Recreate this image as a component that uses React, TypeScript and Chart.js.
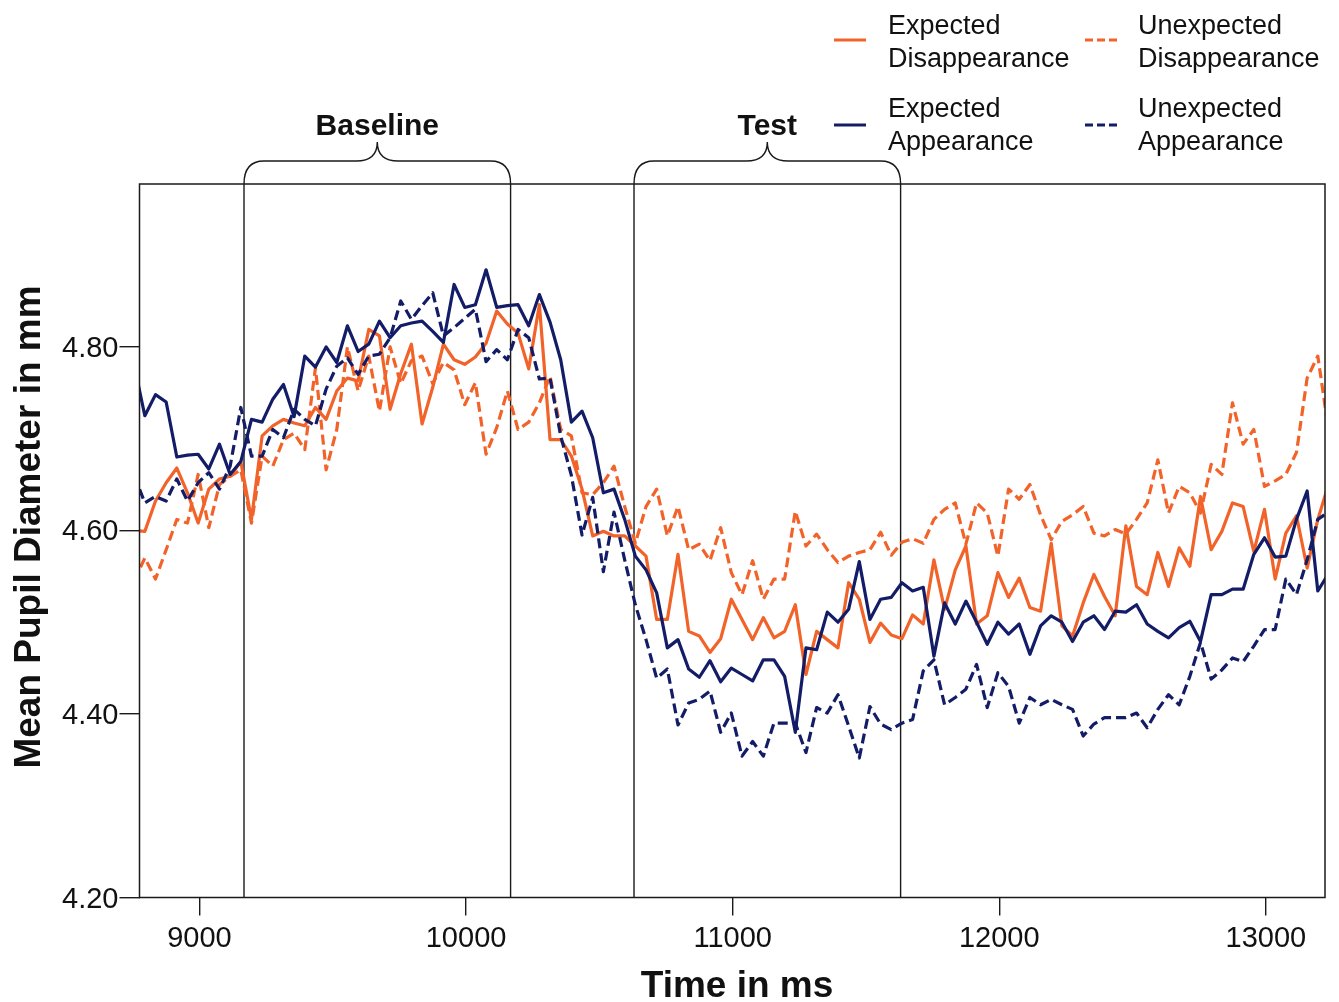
import React, { useEffect, useRef } from 'react';
import { Chart, registerables } from 'chart.js';

Chart.register(...registerables);

// Sampling of the time axis (ms): first sample and interval
const START_MS = 8755;
const STEP_MS = 40;

// Mean pupil diameter (mm), one value per 40 ms sample
const expectedDisappearance = [
  4.600, 4.599, 4.632, 4.652, 4.668, 4.641, 4.608, 4.645, 4.656, 4.659,
  4.675, 4.612, 4.703, 4.714, 4.721, 4.717, 4.714, 4.734, 4.721, 4.752,
  4.766, 4.763, 4.819, 4.812, 4.732, 4.771, 4.803, 4.716, 4.756, 4.803,
  4.786, 4.781, 4.789, 4.804, 4.839, 4.825, 4.815, 4.776, 4.846, 4.699,
  4.699, 4.681, 4.645, 4.594, 4.599, 4.594, 4.594, 4.583, 4.572, 4.503,
  4.503, 4.574, 4.490, 4.485, 4.467, 4.482, 4.525, 4.503, 4.481, 4.505,
  4.483, 4.490, 4.519, 4.443, 4.490, 4.481, 4.472, 4.543, 4.525, 4.478,
  4.499, 4.486, 4.482, 4.508, 4.498, 4.568, 4.514, 4.557, 4.583, 4.498,
  4.507, 4.554, 4.527, 4.548, 4.516, 4.512, 4.586, 4.496, 4.485, 4.521,
  4.552, 4.528, 4.507, 4.605, 4.539, 4.530, 4.576, 4.539, 4.581, 4.561,
  4.637, 4.579, 4.599, 4.630, 4.626, 4.577, 4.623, 4.547, 4.597, 4.616,
  4.559, 4.612, 4.650,
];

const unexpectedDisappearance = [
  4.545, 4.570, 4.547, 4.579, 4.612, 4.608, 4.661, 4.603, 4.650, 4.659,
  4.666, 4.608, 4.681, 4.670, 4.699, 4.706, 4.688, 4.777, 4.666, 4.710,
  4.800, 4.752, 4.790, 4.730, 4.800, 4.760, 4.785, 4.790, 4.760, 4.783,
  4.775, 4.737, 4.761, 4.683, 4.712, 4.752, 4.710, 4.718, 4.739, 4.768,
  4.710, 4.703, 4.641, 4.639, 4.652, 4.670, 4.626, 4.586, 4.626, 4.645,
  4.594, 4.626, 4.579, 4.585, 4.567, 4.603, 4.554, 4.530, 4.567, 4.525,
  4.547, 4.547, 4.621, 4.583, 4.596, 4.579, 4.565, 4.572, 4.576, 4.579,
  4.598, 4.573, 4.587, 4.591, 4.586, 4.612, 4.623, 4.630, 4.585, 4.630,
  4.619, 4.572, 4.645, 4.634, 4.650, 4.617, 4.590, 4.610, 4.617, 4.626,
  4.597, 4.594, 4.601, 4.596, 4.612, 4.630, 4.677, 4.619, 4.648, 4.641,
  4.619, 4.672, 4.661, 4.739, 4.694, 4.710, 4.648, 4.654, 4.661, 4.685,
  4.766, 4.790, 4.710,
];

const expectedAppearance = [
  4.780, 4.725, 4.748, 4.740, 4.680, 4.682, 4.683, 4.667, 4.694, 4.661,
  4.675, 4.721, 4.718, 4.743, 4.759, 4.724, 4.790, 4.778, 4.800, 4.783,
  4.823, 4.795, 4.803, 4.828, 4.810, 4.823, 4.826, 4.828, 4.817, 4.805,
  4.868, 4.843, 4.846, 4.884, 4.843, 4.845, 4.846, 4.823, 4.857, 4.827,
  4.786, 4.718, 4.730, 4.701, 4.641, 4.645, 4.612, 4.572, 4.557, 4.532,
  4.472, 4.481, 4.449, 4.440, 4.458, 4.435, 4.450, 4.443, 4.436, 4.459,
  4.459, 4.441, 4.380, 4.472, 4.470, 4.511, 4.500, 4.514, 4.566, 4.503,
  4.525, 4.527, 4.543, 4.534, 4.538, 4.463, 4.521, 4.498, 4.523, 4.500,
  4.476, 4.500, 4.487, 4.498, 4.465, 4.496, 4.507, 4.500, 4.479, 4.500,
  4.507, 4.492, 4.512, 4.511, 4.519, 4.498, 4.490, 4.483, 4.494, 4.501,
  4.479, 4.530, 4.530, 4.536, 4.536, 4.574, 4.592, 4.571, 4.572, 4.612,
  4.643, 4.534, 4.553,
];

const unexpectedAppearance = [
  4.660, 4.630, 4.637, 4.632, 4.656, 4.632, 4.652, 4.663, 4.645, 4.670,
  4.734, 4.681, 4.681, 4.710, 4.701, 4.732, 4.721, 4.714, 4.754, 4.779,
  4.788, 4.770, 4.790, 4.792, 4.810, 4.850, 4.830, 4.845, 4.859, 4.812,
  4.821, 4.831, 4.841, 4.784, 4.797, 4.786, 4.819, 4.810, 4.765, 4.766,
  4.703, 4.660, 4.595, 4.636, 4.555, 4.620, 4.568, 4.519, 4.481, 4.439,
  4.449, 4.388, 4.412, 4.416, 4.425, 4.380, 4.401, 4.354, 4.370, 4.354,
  4.390, 4.390, 4.390, 4.358, 4.407, 4.401, 4.421, 4.387, 4.352, 4.408,
  4.389, 4.383, 4.390, 4.394, 4.447, 4.459, 4.410, 4.418, 4.427, 4.454,
  4.407, 4.445, 4.430, 4.390, 4.418, 4.410, 4.416, 4.410, 4.405, 4.376,
  4.389, 4.396, 4.396, 4.396, 4.401, 4.385, 4.405, 4.421, 4.410, 4.441,
  4.478, 4.438, 4.448, 4.461, 4.457, 4.474, 4.492, 4.492, 4.547, 4.530,
  4.568, 4.612, 4.620,
];

const timeMs = expectedAppearance.map((_, i) => START_MS + STEP_MS * i);

const xTickValues = [9000, 10000, 11000, 12000, 13000];
const yTickValues = [4.2, 4.4, 4.6, 4.8];

// Analysis windows (ms)
const windowLabels = ['Baseline', 'Test'];
const windowStarts = [9167, 10630];
const windowEnds = [10167, 11630];

// Legend (2 x 2)
const legendLines1 = ['Expected', 'Unexpected', 'Expected', 'Unexpected'];
const legendLines2 = ['Disappearance', 'Disappearance', 'Appearance', 'Appearance'];

const ORANGE = '#F2632A';
const NAVY = '#131C66';
const FONT = "'Liberation Sans', Arial, Helvetica, sans-serif";
const INK = '#111111';

const toPoints = (vals: number[]) => vals.map((v, i) => ({ x: timeMs[i], y: v }));

const decorPlugin = {
  id: 'decor',
  beforeDatasetsDraw(chart: any) {
    const { ctx, chartArea, scales } = chart;
    ctx.save();
    ctx.strokeStyle = '#1a1a1a';
    ctx.lineWidth = 1.4;
    for (let i = 0; i < windowLabels.length; i++) {
      for (const t of [windowStarts[i], windowEnds[i]]) {
        const px = scales.x.getPixelForValue(t);
        ctx.beginPath();
        ctx.moveTo(px, chartArea.top);
        ctx.lineTo(px, chartArea.bottom);
        ctx.stroke();
      }
    }
    ctx.restore();
  },
  afterDraw(chart: any) {
    const { ctx, chartArea, scales } = chart;
    const { left, right, top, bottom } = chartArea;
    ctx.save();
    // plot frame
    ctx.strokeStyle = '#1a1a1a';
    ctx.lineWidth = 1.5;
    ctx.strokeRect(left, top, right - left, bottom - top);

    // braces + labels
    const braceY = top - 23;
    const tipY = top - 42;
    for (let i = 0; i < windowLabels.length; i++) {
      const L = scales.x.getPixelForValue(windowStarts[i]);
      const R = scales.x.getPixelForValue(windowEnds[i]);
      const C = (L + R) / 2;
      const r = 20;
      const w = 21;
      ctx.lineWidth = 1.4;
      ctx.beginPath();
      ctx.moveTo(L, top);
      ctx.quadraticCurveTo(L, braceY, L + r, braceY);
      ctx.lineTo(C - w, braceY);
      ctx.quadraticCurveTo(C, braceY, C, tipY);
      ctx.quadraticCurveTo(C, braceY, C + w, braceY);
      ctx.lineTo(R - r, braceY);
      ctx.quadraticCurveTo(R, braceY, R, top);
      ctx.stroke();
      ctx.fillStyle = INK;
      ctx.font = `bold 30px ${FONT}`;
      ctx.textAlign = 'center';
      ctx.textBaseline = 'alphabetic';
      ctx.fillText(windowLabels[i], C, tipY - 7);
    }

    // legend
    const colX = [834, 1085];
    const textX = [888, 1138];
    const rowLineY = [40, 125];
    const rowBase1 = [34, 117];
    const rowBase2 = [67, 150];
    const colors = [ORANGE, ORANGE, NAVY, NAVY];
    const dashed = [false, true, false, true];
    for (let k = 0; k < 4; k++) {
      const col = k % 2;
      const row = Math.floor(k / 2);
      ctx.strokeStyle = colors[k];
      ctx.lineWidth = 3;
      ctx.setLineDash(dashed[k] ? [8, 4] : []);
      ctx.beginPath();
      ctx.moveTo(colX[col], rowLineY[row]);
      ctx.lineTo(colX[col] + 32, rowLineY[row]);
      ctx.stroke();
      ctx.setLineDash([]);
      ctx.fillStyle = INK;
      ctx.font = `27px ${FONT}`;
      ctx.textAlign = 'left';
      ctx.textBaseline = 'alphabetic';
      ctx.fillText(legendLines1[k], textX[col], rowBase1[row]);
      ctx.fillText(legendLines2[k], textX[col], rowBase2[row]);
    }

    // axis titles
    ctx.fillStyle = INK;
    ctx.font = `bold 37px ${FONT}`;
    ctx.textAlign = 'center';
    ctx.textBaseline = 'alphabetic';
    ctx.fillText('Time in ms', 737, 997);
    ctx.save();
    ctx.translate(40, 527);
    ctx.rotate(-Math.PI / 2);
    ctx.fillText('Mean Pupil Diameter in mm', 0, 0);
    ctx.restore();

    ctx.restore();
  },
};

export default function App() {
  const canvasRef = useRef<HTMLCanvasElement | null>(null);

  useEffect(() => {
    document.body.style.margin = '0';
    document.body.style.overflow = 'hidden';
    const canvas = canvasRef.current;
    if (!canvas) return;
    const lineBase = {
      pointRadius: 0,
      borderWidth: 3.2,
      borderJoinStyle: 'round' as const,
      tension: 0,
      fill: false,
      clip: 0,
    };
    const chart = new Chart(canvas, {
      type: 'line',
      data: {
        datasets: [
          { ...lineBase, label: 'Unexpected Appearance', data: toPoints(unexpectedAppearance), borderColor: NAVY, borderDash: [10, 5] },
          { ...lineBase, label: 'Expected Appearance', data: toPoints(expectedAppearance), borderColor: NAVY },
          { ...lineBase, label: 'Unexpected Disappearance', data: toPoints(unexpectedDisappearance), borderColor: ORANGE, borderDash: [10, 5] },
          { ...lineBase, label: 'Expected Disappearance', data: toPoints(expectedDisappearance), borderColor: ORANGE },
        ],
      },
      options: {
        animation: false,
        responsive: false,
        maintainAspectRatio: false,
        events: [],
        layout: { padding: { top: 184, right: 14, left: 0, bottom: 0 } },
        plugins: { legend: { display: false }, tooltip: { enabled: false }, title: { display: false } },
        scales: {
          x: {
            type: 'linear',
            min: 8775,
            max: 13222,
            afterBuildTicks: (s: any) => {
              s.ticks = xTickValues.map((v) => ({ value: v }));
            },
            afterFit: (s: any) => {
              s.height = 104.5;
            },
            border: { display: false },
            grid: { drawOnChartArea: false, drawTicks: true, tickLength: 18, color: '#1a1a1a', lineWidth: 1.4 },
            ticks: {
              font: { family: FONT, size: 29 },
              color: INK,
              padding: 6,
              maxRotation: 0,
              autoSkip: false,
              callback: (v: any) => String(v),
            },
          },
          y: {
            type: 'linear',
            min: 4.2,
            max: 4.9775,
            afterBuildTicks: (s: any) => {
              s.ticks = yTickValues.map((v) => ({ value: v }));
            },
            afterFit: (s: any) => {
              s.width = 139.5;
            },
            border: { display: false },
            grid: { drawOnChartArea: false, drawTicks: true, tickLength: 20, color: '#1a1a1a', lineWidth: 1.4 },
            ticks: {
              font: { family: FONT, size: 29 },
              color: INK,
              padding: 1,
              labelOffset: 2,
              autoSkip: false,
              callback: (v: any) => Number(v).toFixed(2),
            },
          },
        },
      },
      plugins: [decorPlugin],
    } as any);
    return () => chart.destroy();
  }, []);

  return (
    <div style={{ position: 'absolute', left: 0, top: 0, width: 1339, height: 1002, background: '#ffffff' }}>
      <canvas ref={canvasRef} width={1339} height={1002} style={{ width: 1339, height: 1002, display: 'block' }} />
    </div>
  );
}
